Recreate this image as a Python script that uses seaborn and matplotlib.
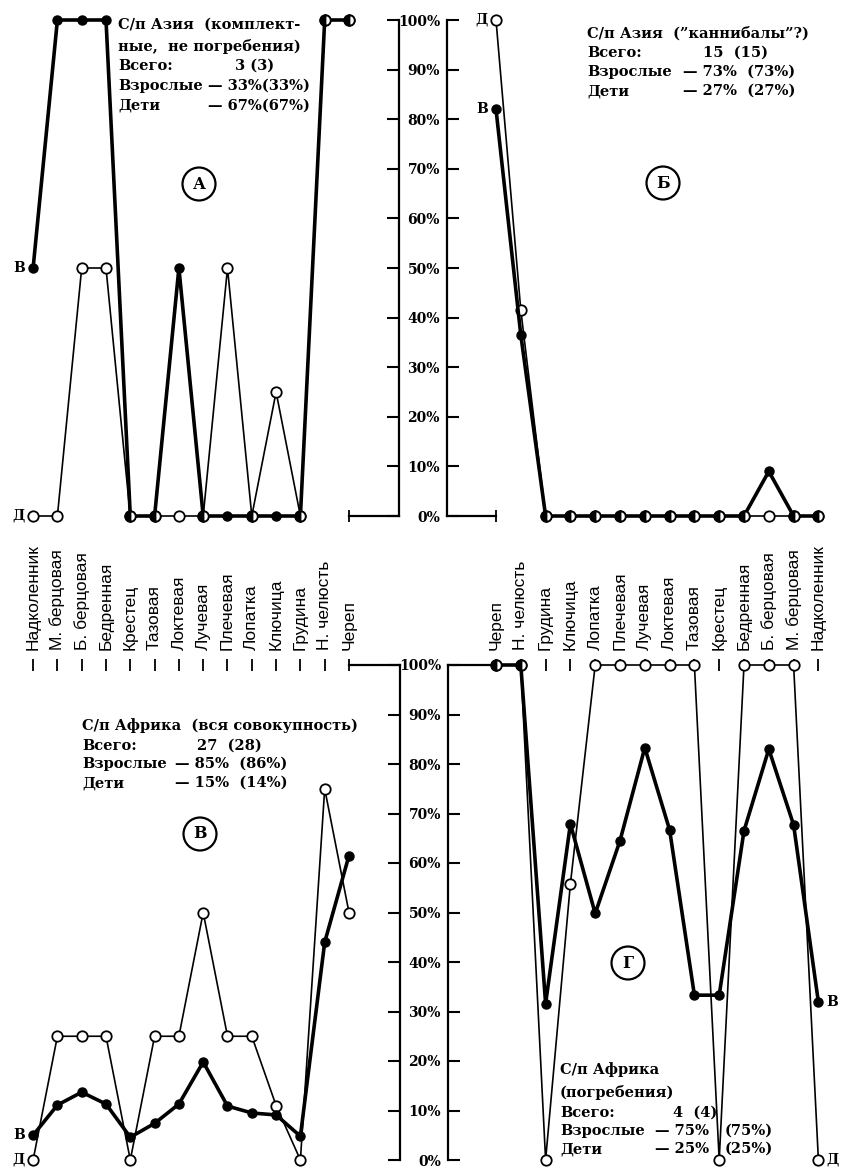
import matplotlib
matplotlib.use("Agg")
import pandas as pd
import matplotlib.pyplot as plt
import seaborn as sns

# --- данные: доля (%) костей, от черепа к надколеннику ---
bones = ["Череп", "Н. челюсть", "Грудина", "Ключица", "Лопатка", "Плечевая",
         "Лучевая", "Локтевая", "Тазовая", "Крестец", "Бедренная",
         "Б. берцовая", "М. берцовая", "Надколенник"]

# А: С/п Азия (комплектные, не погребения)
a_adult = [100, 100, 0, 0, 0, 0, 0, 50, 0, 0, 100, 100, 100, 50]
a_child = [100, 100, 0, 25, 0, 50, 0, 0, 0, 0, 50, 50, 0, 0]

# Б: С/п Азия ("каннибалы"?)
b_adult = [82, 36.5, 0, 0, 0, 0, 0, 0, 0, 0, 0, 9, 0, 0]
b_child = [100, 41.5, 0, 0, 0, 0, 0, 0, 0, 0, 0, 0, 0, 0]

# В: С/п Африка (вся совокупность)
v_adult = [61.5, 44, 4.8, 9.1, 9.5, 10.9, 19.8, 11.3, 7.4, 4.6, 11.3, 13.7, 11.1, 5]
v_child = [50, 75, 0, 11, 25, 25, 50, 25, 25, 0, 25, 25, 25, 0]

# Г: С/п Африка (погребения)
g_adult = [100, 100, 31.6, 67.9, 49.8, 64.5, 83.3, 66.7, 33.3, 33.3, 66.5, 83, 67.7, 31.9]
g_child = [100, 100, 0, 55.8, 100, 100, 100, 100, 100, 0, 100, 100, 100, 0]

pct_ticks = list(range(0, 101, 10))
pct_labels = [f"{t}%" for t in pct_ticks]

# --- стиль ---
sns.set_theme(style="ticks", rc={"axes.edgecolor": "black", "xtick.color": "black",
                                 "ytick.color": "black", "text.color": "black"})
plt.rcParams["font.family"] = ["DejaVu Serif"]
SERIF = dict(fontfamily="DejaVu Serif", fontweight="bold", fontsize=10)
BLOCK = dict(fontfamily="DejaVu Serif", fontweight="bold", fontsize=10.5)

W, H = 845, 1169
fig = plt.figure(figsize=(W / 100, H / 100), dpi=100)


def add_panel(x0, x1, y_top, y_bot, p0, step):
    ax = fig.add_axes([x0 / W, 1 - y_bot / H, (x1 - x0) / W, (y_bot - y_top) / H])
    ax.set_xlim((x0 - p0) / step, (x1 - p0) / step)
    ax.set_ylim(0, 100)
    ax.set_facecolor("none")
    return ax


def draw(ax, adult, child):
    df = pd.DataFrame({"bone": range(len(bones)), "adult": adult, "child": child})
    sns.lineplot(data=df, x="bone", y="child", ax=ax, color="black", lw=1.2,
                 marker="o", markersize=7.5, markerfacecolor="white",
                 markeredgecolor="black", markeredgewidth=1.3, clip_on=False, zorder=3)
    sns.lineplot(data=df, x="bone", y="adult", ax=ax, color="black", lw=2.6,
                 marker="o", markersize=6.5, markerfacecolor="black",
                 markeredgecolor="black", markeredgewidth=1, clip_on=False, zorder=4)
    # совпадающие значения - полузакрашенный кружок
    same = df[df["adult"] == df["child"]]
    ax.plot(same["bone"], same["adult"], ls="none", marker="o", markersize=7.5,
            fillstyle="left", markerfacecolor="black", markerfacecoloralt="white",
            markeredgecolor="black", markeredgewidth=1.3, clip_on=False, zorder=5)
    ax.set_xlabel("")
    ax.set_ylabel("")
    return df


def series_tags(ax, adult, child, i, dx):
    ha = "right" if dx < 0 else "left"
    ax.annotate("В", (i, adult[i]), xytext=(dx, 0), textcoords="offset points",
                ha=ha, va="center", annotation_clip=False, **SERIF)
    ax.annotate("Д", (i, child[i]), xytext=(dx, 0), textcoords="offset points",
                ha=ha, va="center", annotation_clip=False, **SERIF)


def ftext(x, y, s):
    fig.text(x / W, 1 - y / H, s, va="center", ha="left", **BLOCK)


def circled(x, y, s):
    fig.text(x / W, 1 - y / H, s, ha="center", va="center", fontsize=11.5,
             fontfamily="DejaVu Serif", fontweight="bold",
             bbox=dict(boxstyle="circle,pad=0.5", fc="white", ec="black", lw=1.6))


LEFT_STEP, LEFT_P0 = -24.3, 349
RIGHT_STEP, RIGHT_P0 = 24.8, 496

# --- верхний ряд: А и Б ---
ax_a = add_panel(0, 399, 20, 516, LEFT_P0, LEFT_STEP)
ax_b = add_panel(447, 845, 20, 516, RIGHT_P0, RIGHT_STEP)
draw(ax_a, a_adult, a_child)
draw(ax_b, b_adult, b_child)

# --- нижний ряд: В и Г ---
ax_v = add_panel(0, 400, 665, 1160, LEFT_P0, LEFT_STEP)
ax_g = add_panel(448, 845, 665, 1160, RIGHT_P0, RIGHT_STEP)
draw(ax_v, v_adult, v_child)
draw(ax_g, g_adult, g_child)

for ax in [ax_a, ax_b, ax_v, ax_g]:
    ax.set_yticks(pct_ticks)
    for s in ax.spines.values():
        s.set_linewidth(1.6)

# оси с процентами в центре
for ax in [ax_a, ax_v]:
    ax.yaxis.tick_right()
    ax.tick_params(axis="y", direction="in", length=8.6, width=1.5,
                   right=True, left=False, labelright=False, labelleft=False)
    ax.spines["left"].set_visible(False)
for ax in [ax_b, ax_g]:
    ax.tick_params(axis="y", direction="in", length=8.6, width=1.5,
                   left=True, right=False, labelleft=True, pad=5)
    ax.set_yticklabels(pct_labels, **SERIF)
    ax.spines["right"].set_visible(False)

# горизонтальные оси
for ax in [ax_a, ax_b]:
    ax.spines["top"].set_visible(False)
    lo, hi = sorted(ax.get_xlim())
    ax.spines["bottom"].set_bounds(lo, 0)
    ax.set_xticks([0])
    ax.set_xticklabels([])
    ax.tick_params(axis="x", direction="inout", length=8.5, width=1.3, bottom=True)
for ax in [ax_v, ax_g]:
    ax.spines["bottom"].set_visible(False)
    lo, hi = sorted(ax.get_xlim())
    ax.spines["top"].set_bounds(lo, 0)
    ax.xaxis.tick_top()
    ax.set_xticks(range(len(bones)))
    ax.set_xticklabels(bones, rotation=90, fontfamily="Liberation Sans", fontsize=12.5)
    ax.tick_params(axis="x", direction="inout", length=8, width=1.3, top=True,
                   bottom=False, labeltop=True, labelbottom=False, pad=7)

# подписи рядов
series_tags(ax_a, a_adult, a_child, 13, -6)
series_tags(ax_b, b_adult, b_child, 0, -6)
series_tags(ax_v, v_adult, v_child, 13, -6)
series_tags(ax_g, g_adult, g_child, 13, 6)

# --- текстовые блоки ---
ftext(118, 25, "С/п Азия  (комплект-")
ftext(118, 46, "ные,  не погребения)")
ftext(118, 66, "Всего:")
ftext(235, 66, "3 (3)")
ftext(118, 86, "Взрослые")
ftext(208, 86, "— 33%(33%)")
ftext(118, 106, "Дети")
ftext(208, 106, "— 67%(67%)")

ftext(587, 33, "С/п Азия  (”каннибалы”?)")
ftext(587, 53, "Всего:")
ftext(703, 53, "15  (15)")
ftext(587, 72, "Взрослые")
ftext(683, 72, "— 73%  (73%)")
ftext(587, 91, "Дети")
ftext(683, 91, "— 27%  (27%)")

ftext(82, 726, "С/п Африка  (вся совокупность)")
ftext(82, 746, "Всего:")
ftext(197, 746, "27  (28)")
ftext(82, 764, "Взрослые")
ftext(175, 764, "— 85%  (86%)")
ftext(82, 783, "Дети")
ftext(175, 783, "— 15%  (14%)")

ftext(560, 1070, "С/п Африка")
ftext(560, 1093, "(погребения)")
ftext(560, 1113, "Всего:")
ftext(673, 1113, "4  (4)")
ftext(560, 1131, "Взрослые")
ftext(655, 1131, "— 75%")
ftext(725, 1131, "(75%)")
ftext(560, 1149, "Дети")
ftext(655, 1149, "— 25%")
ftext(725, 1149, "(25%)")

circled(199, 184, "А")
circled(663, 183, "Б")
circled(200, 834, "В")
circled(628, 963, "Г")

plt.savefig("out.png", dpi=100)
